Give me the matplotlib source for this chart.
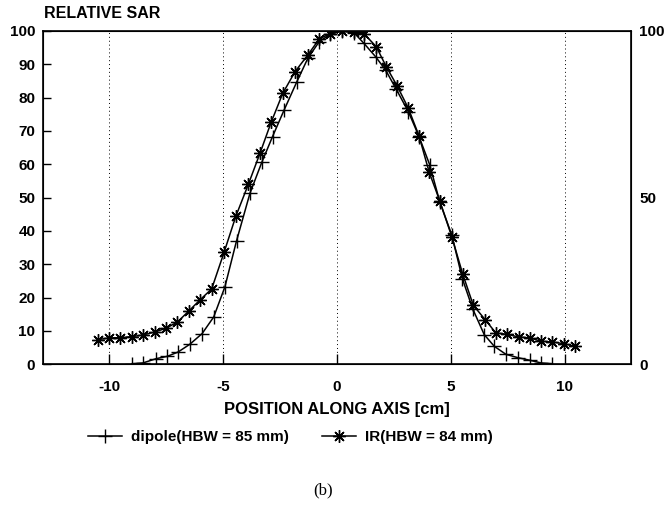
import matplotlib
matplotlib.use("Agg")
import matplotlib.pyplot as plt

# ---- data ----
ir_x = [-10.5, -10.0, -9.5, -9.0, -8.5, -8.0, -7.5, -7.0, -6.5, -6.0, -5.5, -4.95,
        -4.44, -3.89, -3.38, -2.89, -2.38, -1.84, -1.28, -0.78, -0.3,
        0.22, 0.74, 1.18, 1.72, 2.16, 2.64, 3.13, 3.6, 4.04, 4.51, 5.04,
        5.51, 5.98, 6.5, 6.97, 7.46, 7.97, 8.47, 8.96, 9.44, 9.94, 10.45]
ir_y = [7.4, 7.9, 8.0, 8.3, 8.8, 9.7, 10.8, 12.7, 16.0, 19.4, 22.6, 33.7,
        44.4, 54.0, 63.3, 72.6, 81.3, 87.8, 92.8, 97.6, 99.2,
        100.0, 99.7, 99.2, 95.3, 89.3, 83.5, 76.8, 68.5, 57.7, 49.0, 38.2,
        27.2, 17.7, 13.4, 9.4, 9.0, 8.2, 7.9, 6.9, 6.7, 6.2, 5.4]

dip_x = [-8.99, -8.52, -7.93, -7.44, -6.97, -6.46, -5.92, -5.41, -4.92,
         -4.41, -3.82, -3.30, -2.83, -2.32, -1.76, -1.28, -0.78, -0.3,
         0.22, 0.74, 1.18, 1.69, 2.13, 2.60, 3.13, 3.6, 4.07, 4.51, 5.04,
         5.5, 5.95, 6.46, 6.90, 7.41, 7.93, 8.47, 8.96, 9.44]
dip_y = [0.2, 0.4, 1.7, 2.4, 3.7, 6.0, 9.2, 14.2, 23.2,
         37.0, 51.3, 60.6, 68.3, 76.3, 84.8, 91.8, 96.8, 99.0,
         100.0, 99.5, 96.3, 92.3, 88.3, 82.5, 75.8, 68.3, 59.8, 48.7, 38.7,
         25.7, 16.7, 8.9, 5.4, 3.0, 2.0, 1.2, 0.4, 0.2]

x_ticks = [-10, -5, 0, 5, 10]
x_tick_labels = ["-10", "-5", "0", "5", "10"]
y_ticks = [0, 10, 20, 30, 40, 50, 60, 70, 80, 90, 100]
y2_ticks = [0, 50, 100]
labels = ["dipole(HBW = 85 mm)", "IR(HBW = 84 mm)"]

plt.rcParams['font.family'] = ['Liberation Sans', 'DejaVu Sans']

fig = plt.figure(figsize=(6.72, 5.16), dpi=100)
ax = fig.add_axes([0.064, 0.294, 0.875, 0.646])

ax.plot(dip_x, dip_y, color='black', lw=1.1, marker='+', ms=10, mew=1.0,
        label=labels[0])
ax.plot(ir_x, ir_y, color='black', lw=1.1, marker=(8, 2, 0), ms=9, mew=1.0,
        label=labels[1])

ax.set_xlim(-12.9, 12.9)
ax.set_ylim(0, 100)
for xv in x_ticks:
    ax.axvline(xv, color='black', lw=0.7, ls=(0, (1, 3)), zorder=0)

ax.set_xticks(x_ticks)
ax.set_xticklabels(x_tick_labels, fontweight='bold', fontsize=11)
ax.set_yticks(y_ticks)
ax.set_yticklabels([str(v) for v in y_ticks], fontweight='bold', fontsize=11)
ax.tick_params(axis='x', direction='in', length=7, width=1, pad=11)
ax.tick_params(axis='y', direction='in', length=6, width=1, pad=5.5)
for s in ax.spines.values():
    s.set_linewidth(1.2)

ax2 = ax.twinx()
ax2.set_ylim(0, 100)
ax2.set_yticks(y2_ticks)
ax2.set_yticklabels([str(v) for v in y2_ticks], fontweight='bold', fontsize=11)
ax2.tick_params(axis='y', direction='in', length=0, width=1, pad=6)

ax.set_xlabel("POSITION ALONG AXIS [cm]", fontweight='bold', fontsize=12,
              labelpad=6)
fig.text(44 / 672, 1 - 13 / 516, "RELATIVE SAR", fontweight='bold',
         fontsize=11.5, va='center', ha='left')

fig.legend(loc='center left', bbox_to_anchor=(88 / 672, 1 - 437 / 516), ncol=2,
           frameon=False, handlelength=2.2, columnspacing=2.2,
           prop={'weight': 'bold', 'size': 11}, handletextpad=0.6,
           borderpad=0, borderaxespad=0)

fig.text(323 / 672, 1 - 490 / 516, "(b)", family='Liberation Serif',
         fontsize=12, ha='center', va='center')

fig.savefig("out.png", dpi=100)
